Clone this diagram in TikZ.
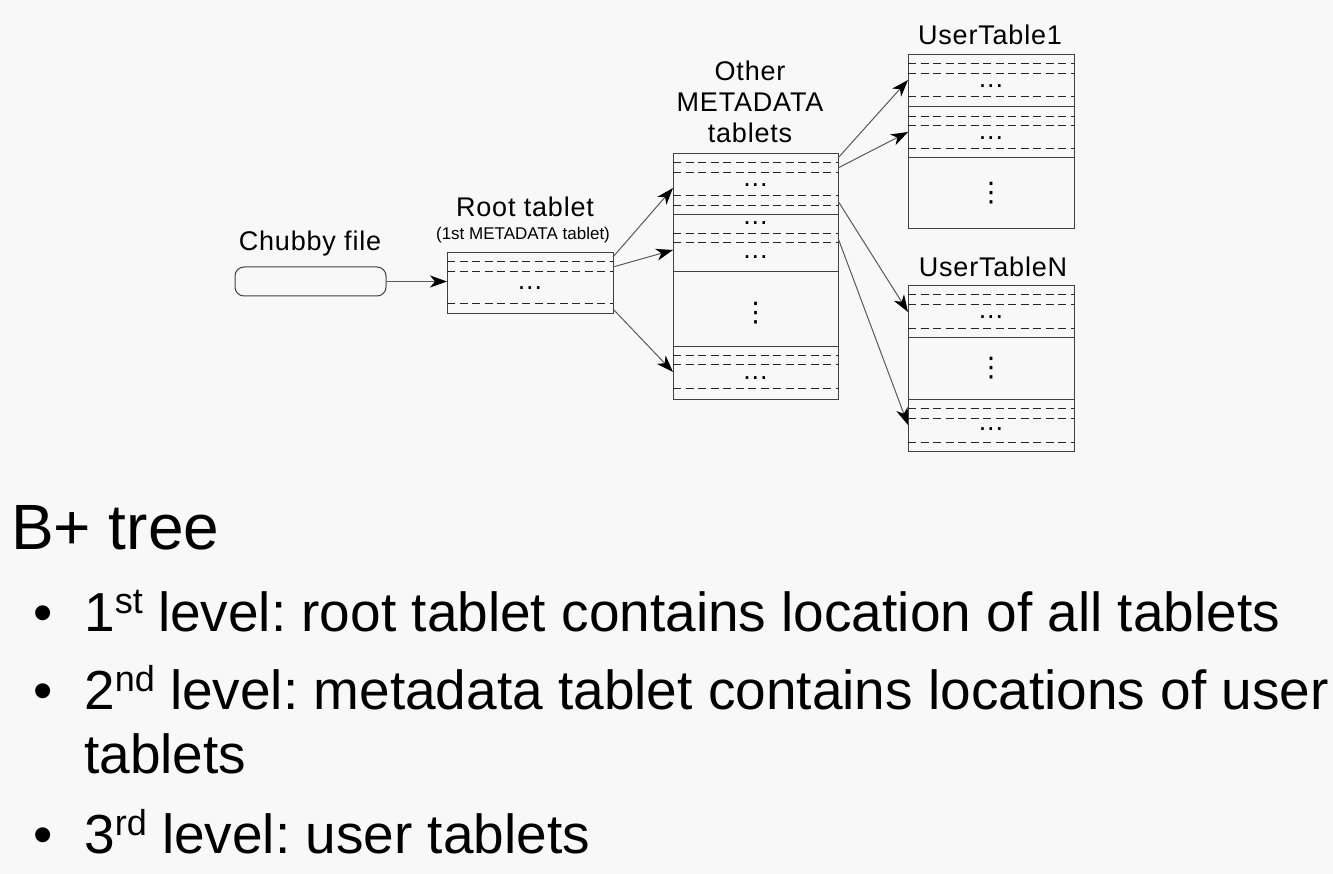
\documentclass[tikz,border=0pt]{standalone}
\usepackage{fontspec}
\setmainfont{Liberation Sans}
\newfontfamily\lblfont[LetterSpace=3]{Liberation Sans}
\newfontfamily\symfont{DejaVu Sans}
\usetikzlibrary{arrows.meta}
\definecolor{slidebg}{RGB}{248,248,248}
\frenchspacing
\newcommand\lvlsup[1]{\raisebox{18pt}{\fontsize{36}{36}\selectfont #1}}
\begin{document}
\begin{tikzpicture}[x=1pt, y=-1pt,
		tablet/.style={draw=black!75, line width=1pt, inner sep=0pt, outer sep=0pt},
		entry/.style={black!85, line width=1pt, dash pattern=on 8pt off 4.5pt},
		split/.style={black!75, line width=1pt},
		link/.style={black!65, line width=1pt, -{Stealth[length=17pt,width=12pt,inset=5pt,black]}},
		lbl/.style={font={\lblfont\fontsize{27}{31}\selectfont}, inner sep=0pt, align=center},
		rowdots/.style={font={\lblfont\fontsize{27}{30}\selectfont}, inner sep=0pt},
		colvdots/.style={font={\symfont\fontsize{27}{30}\selectfont}, inner sep=0pt},
		bul/.style={anchor=base, inner sep=0pt, font={\fontsize{55}{64}\selectfont}},
		item/.style={anchor=base west, inner sep=0pt, font={\fontsize{55}{64}\selectfont}}]
		\fill [slidebg] (0,0) rectangle (1333,874);
		
		% chubby file
		\node [draw=black!75, line width=1pt, rounded corners=9pt, minimum width=151pt, minimum height=29pt, inner sep=0pt] (chubby) at (310.5,281.5) {};
		\node [lbl, anchor=base] (chubbylbl) at (310,251) {Chubby file};
		
		% root tablet
		\node [tablet, minimum width=166pt, minimum height=61pt] (root) at (530,283.5) {};
		\foreach \y in {262,272,304}
			\draw [entry] (root.west |- 0,\y) -- (root.east |- 0,\y);
		\node [rowdots] (rootdots) at (530,288) {...};
		\node [lbl, anchor=base] (rootlbl) at (525,217) {Root tablet};
		\node [anchor=base, inner sep=0pt, font={\fontsize{17}{20}\selectfont}] (rootsub) at (523,240) {(1st METADATA tablet)};
		
		% other metadata tablets
		\node [tablet, minimum width=165pt, minimum height=245pt] (meta) at (755.5,276.5) {};
		\foreach \y in {163,173,196,206,234,243,356,365,389}
			\draw [entry] (meta.west |- 0,\y) -- (meta.east |- 0,\y);
		\foreach \y in {215,272,347}
			\draw [split] (meta.west |- 0,\y) -- (meta.east |- 0,\y);
		\foreach \y in {185,223,257,378}
			\node [rowdots] at (755.5,\y) {...};
		\node [colvdots] (metavdots) at (755.5,313) {⋮};
		\node [lbl, anchor=south] (metalbl) at (750,143) {Other\\METADATA\\tablets};
		
		% user tables
		\node [tablet, minimum width=166pt, minimum height=174pt] (ut1) at (991,142) {};
		\foreach \y in {64,74,97,117,126,149}
			\draw [entry] (ut1.west |- 0,\y) -- (ut1.east |- 0,\y);
		\foreach \y in {107,158}
			\draw [split] (ut1.west |- 0,\y) -- (ut1.east |- 0,\y);
		\foreach \y in {86,138}
			\node [rowdots] at (991,\y) {...};
		\node [colvdots] (ut1vdots) at (991,193) {⋮};
		\node [lbl, anchor=base] (ut1lbl) at (990,45) {UserTable1};
		
		\node [tablet, minimum width=166pt, minimum height=165pt] (utn) at (991,368.5) {};
		\foreach \y in {295,305,329,408,418,442}
			\draw [entry] (utn.west |- 0,\y) -- (utn.east |- 0,\y);
		\foreach \y in {338,399}
			\draw [split] (utn.west |- 0,\y) -- (utn.east |- 0,\y);
		\foreach \y in {317,429}
			\node [rowdots] at (991,\y) {...};
		\node [colvdots] (utnvdots) at (991,368) {⋮};
		\node [lbl, anchor=base] (utnlbl) at (993,277) {UserTableN};
		
		% pointers
		\coordinate (root-k1) at (root.east |- 0,257);
		\coordinate (root-k2) at (root.east |- 0,267);
		\coordinate (root-k3) at (root.east |- 0,309);
		\coordinate (meta-p1) at (meta.west |- 0,188);
		\coordinate (meta-p2) at (meta.west |- 0,250);
		\coordinate (meta-p3) at (meta.west |- 0,372);
		\coordinate (meta-k1) at (meta.east |- 0,158);
		\coordinate (meta-k2) at (meta.east |- 0,168);
		\coordinate (meta-k3) at (meta.east |- 0,201);
		\coordinate (meta-k4) at (meta.east |- 0,238);
		\coordinate (ut1-p1) at (ut1.west |- 0,80);
		\coordinate (ut1-p2) at (ut1.west |- 0,132);
		\coordinate (utn-p1) at (utn.west |- 0,312);
		\coordinate (utn-p2) at (utn.west |- 0,425);
		
		\draw [link] (chubby.east) -- (chubby.east -| root.west);
		\draw [link] (root-k1) -- (meta-p1);
		\draw [link] (root-k2) -- (meta-p2);
		\draw [link] (root-k3) -- (meta-p3);
		\draw [link] (meta-k1) -- (ut1-p1);
		\draw [link] (meta-k2) -- (ut1-p2);
		\draw [link] (meta-k3) -- (utn-p1);
		\draw [link] (meta-k4) -- (utn-p2);
		
		% text below
		\node [anchor=base west, inner sep=0pt, font={\fontsize{64}{70}\selectfont}] (title) at (11,549) {B+ tree};
		\node [bul] (b1) at (43,631) {•};
		\node [item] (lvl1) at (84,631) {1\lvlsup{st} level: root tablet contains location of all tablets};
		\node [bul] (b2) at (43,709) {•};
		\node [item] (lvl2) at (84,709) {2\lvlsup{nd} level: metadata tablet contains locations of user};
		\node [item] (lvl2b) at (84,773) {tablets};
		\node [bul] (b3) at (43,853) {•};
		\node [item] (lvl3) at (84,853) {3\lvlsup{rd} level: user tablets};
	\end{tikzpicture}
\end{document}
